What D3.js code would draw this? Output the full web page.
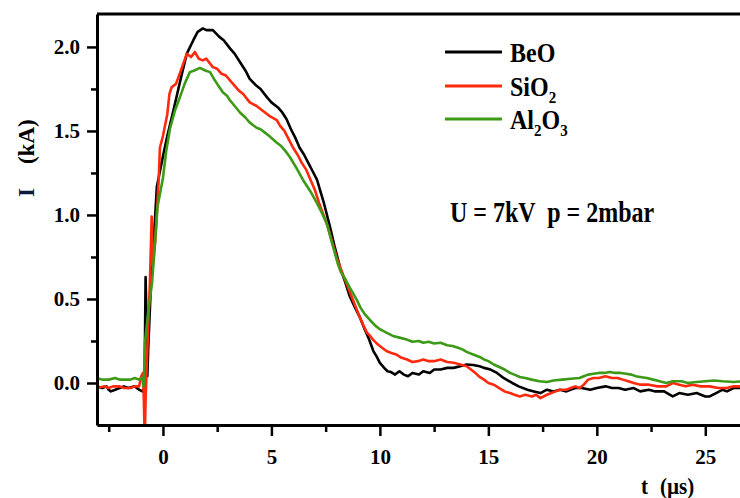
<!DOCTYPE html>
<html>

<head>
    <meta charset="utf-8">
    <title>Discharge current</title>
    <script src="https://d3js.org/d3.v7.min.js"></script>
    <style>
        html,
        body {
            margin: 0;
            padding: 0;
            background: #fff;
        }

        svg text {
            font-family: "Liberation Serif", "DejaVu Serif", serif !important;
            font-weight: bold;
        }
    </style>
</head>

<body>
    <div id="chart"></div>

    <script>
        // current traces: [t (µs), I (kA)]
        const beoData = [
            [-3.05, -0.02], [-2.8, -0.03], [-2.6, -0.02], [-2.5, -0.04], [-2.4, -0.05], [-2.2, -0.04],
            [-2.0, -0.03], [-1.8, -0.02], [-1.6, -0.03], [-1.3, -0.02], [-1.1, -0.04], [-0.95, -0.05],
            [-0.85, -0.03], [-0.8, 0.63], [-0.76, 0.38], [-0.72, 0.04], [-0.68, 0.2], [-0.55, 0.6],
            [-0.4, 0.9], [-0.28, 1.17], [0.0, 1.35], [0.2, 1.47], [0.46, 1.61], [0.8, 1.8], [1.1, 1.96],
            [1.4, 2.04], [1.6, 2.09], [1.84, 2.11], [2.0, 2.10], [2.3, 2.10], [2.6, 2.06], [2.8, 2.04],
            [3.1, 1.99], [3.3, 1.96], [3.6, 1.90], [3.8, 1.86], [4.0, 1.81], [4.3, 1.77], [4.5, 1.75],
            [4.8, 1.70], [5.0, 1.67], [5.3, 1.64], [5.5, 1.61], [5.7, 1.57], [5.9, 1.51], [6.1, 1.46],
            [6.3, 1.40], [6.5, 1.36], [6.7, 1.31], [6.9, 1.26], [7.1, 1.21], [7.4, 1.08], [7.7, 0.93],
            [7.9, 0.82], [8.16, 0.69], [8.4, 0.60], [8.6, 0.52], [8.85, 0.45], [9.08, 0.39], [9.3, 0.32],
            [9.5, 0.26], [9.7, 0.19], [9.86, 0.155], [10.0, 0.12], [10.2, 0.09], [10.35, 0.07],
            [10.5, 0.066], [10.7, 0.05], [10.9, 0.07], [11.1, 0.05], [11.3, 0.04], [11.5, 0.06],
            [11.8, 0.05], [12.0, 0.07], [12.3, 0.06], [12.5, 0.08], [12.8, 0.08], [13.1, 0.09],
            [13.4, 0.09], [13.7, 0.1], [14.0, 0.11], [14.3, 0.107], [14.6, 0.10], [14.8, 0.09],
            [15.1, 0.08], [15.4, 0.06], [15.7, 0.03], [16.1, 0.0], [16.4, -0.02], [16.8, -0.04],
            [17.1, -0.05], [17.4, -0.06], [17.7, -0.04], [18.0, -0.05], [18.3, -0.04], [18.6, -0.05],
            [19.0, -0.03], [19.3, -0.03], [19.7, -0.04], [20.0, -0.03], [20.4, -0.02], [20.7, -0.03],
            [21.0, -0.03], [21.3, -0.04], [21.7, -0.03], [22.0, -0.05], [22.4, -0.04], [22.7, -0.05],
            [23.1, -0.05], [23.5, -0.08], [23.8, -0.06], [24.2, -0.07], [24.6, -0.06], [25.0, -0.08],
            [25.2, -0.08], [25.5, -0.06], [25.8, -0.04], [26.0, -0.05], [26.3, -0.03], [26.7, -0.03]
        ];

        const sio2Data = [
            [-3.05, -0.03], [-2.7, -0.02], [-2.5, -0.03], [-2.3, -0.02], [-2.0, -0.02], [-1.8, -0.03],
            [-1.5, -0.03], [-1.3, -0.02], [-1.1, -0.02], [-1.0, 0.04], [-0.92, 0.06], [-0.88, -0.1],
            [-0.84, -0.35], [-0.8, -0.1], [-0.72, 0.2], [-0.6, 0.6], [-0.52, 0.99], [-0.46, 0.7],
            [-0.35, 0.85], [-0.2, 1.2], [-0.14, 1.40], [0.0, 1.47], [0.2, 1.6], [0.3, 1.72], [0.4, 1.76],
            [0.6, 1.78], [0.8, 1.85], [1.1, 1.96], [1.3, 1.94], [1.47, 1.97], [1.65, 1.93], [1.84, 1.92],
            [2.0, 1.93], [2.3, 1.88], [2.5, 1.87], [2.7, 1.84], [2.9, 1.83], [3.1, 1.80], [3.3, 1.77],
            [3.5, 1.74], [3.7, 1.72], [4.0, 1.67], [4.3, 1.65], [4.6, 1.62], [4.9, 1.59], [5.25, 1.565],
            [5.4, 1.53], [5.6, 1.5], [5.8, 1.45], [6.0, 1.40], [6.2, 1.36], [6.4, 1.31], [6.6, 1.27],
            [6.8, 1.21], [7.0, 1.15], [7.2, 1.07], [7.4, 1.00], [7.6, 0.93], [7.8, 0.84], [8.0, 0.75],
            [8.25, 0.66], [8.5, 0.58], [8.8, 0.48], [9.08, 0.39], [9.25, 0.34], [9.4, 0.3], [9.55, 0.28],
            [9.7, 0.255], [9.9, 0.23], [10.1, 0.21], [10.3, 0.19], [10.5, 0.18], [10.75, 0.17],
            [11.0, 0.15], [11.25, 0.14], [11.5, 0.125], [11.75, 0.13], [12.0, 0.14], [12.25, 0.13],
            [12.5, 0.13], [12.8, 0.14], [13.1, 0.125], [13.4, 0.12], [13.8, 0.107], [14.0, 0.10],
            [14.2, 0.08], [14.4, 0.06], [14.6, 0.036], [14.8, 0.02], [15.0, 0.0], [15.25, -0.01],
            [15.5, -0.03], [15.75, -0.05], [16.0, -0.06], [16.2, -0.07], [16.45, -0.08], [16.7, -0.07],
            [17.0, -0.08], [17.2, -0.07], [17.4, -0.09], [17.7, -0.07], [17.9, -0.06], [18.1, -0.05],
            [18.3, -0.04], [18.6, -0.04], [18.8, -0.03], [19.0, -0.02], [19.2, -0.03], [19.4, -0.01],
            [19.6, 0.02], [19.85, 0.03], [20.1, 0.03], [20.4, 0.04], [20.7, 0.03], [20.95, 0.03],
            [21.2, 0.02], [21.45, 0.01], [21.7, 0.0], [22.0, -0.01], [22.4, -0.01], [22.8, -0.02],
            [23.2, -0.02], [23.5, 0.0], [23.8, -0.01], [24.1, -0.02], [24.4, -0.01], [24.8, -0.02],
            [25.2, -0.02], [25.6, -0.03], [26.0, -0.03], [26.3, -0.02], [26.7, -0.02]
        ];

        const al2o3Data = [
            [-3.05, 0.03], [-2.8, 0.02], [-2.5, 0.02], [-2.2, 0.03], [-2.0, 0.02], [-1.7, 0.02],
            [-1.5, 0.02], [-1.3, 0.03], [-1.1, 0.02], [-0.95, 0.03], [-0.9, -0.02], [-0.85, 0.1],
            [-0.83, 0.24], [-0.7, 0.4], [-0.5, 0.6], [-0.25, 1.05], [0.0, 1.22], [0.15, 1.38],
            [0.32, 1.51], [0.55, 1.62], [0.78, 1.70], [1.0, 1.78], [1.24, 1.85], [1.45, 1.86],
            [1.7, 1.875], [1.95, 1.86], [2.17, 1.85], [2.4, 1.80], [2.55, 1.77], [2.76, 1.73],
            [2.95, 1.71], [3.1, 1.68], [3.3, 1.65], [3.55, 1.61], [3.8, 1.58], [4.0, 1.55], [4.3, 1.52],
            [4.5, 1.51], [4.7, 1.49], [4.9, 1.47], [5.07, 1.45], [5.25, 1.43], [5.45, 1.41],
            [5.65, 1.38], [5.85, 1.345], [6.15, 1.28], [6.45, 1.21], [6.8, 1.14], [7.1, 1.07],
            [7.3, 1.02], [7.55, 0.95], [7.8, 0.83], [8.06, 0.71], [8.2, 0.66], [8.4, 0.62], [8.6, 0.57],
            [8.76, 0.535], [8.95, 0.49], [9.1, 0.45], [9.3, 0.41], [9.54, 0.375], [9.8, 0.34],
            [10.0, 0.32], [10.15, 0.31], [10.3, 0.30], [10.6, 0.28], [10.9, 0.27], [11.2, 0.26],
            [11.5, 0.245], [11.8, 0.25], [12.0, 0.24], [12.25, 0.245], [12.5, 0.235], [12.8, 0.24],
            [13.1, 0.225], [13.35, 0.22], [13.6, 0.21], [13.8, 0.20], [14.0, 0.185], [14.3, 0.17],
            [14.6, 0.155], [14.8, 0.14], [15.0, 0.13], [15.25, 0.11], [15.5, 0.095], [15.75, 0.08],
            [16.0, 0.06], [16.2, 0.05], [16.45, 0.036], [16.7, 0.03], [17.0, 0.02], [17.35, 0.01],
            [17.7, 0.006], [18.0, 0.015], [18.4, 0.02], [18.8, 0.025], [19.2, 0.03], [19.4, 0.04],
            [19.6, 0.05], [19.85, 0.055], [20.1, 0.06], [20.35, 0.06], [20.6, 0.065], [20.85, 0.06],
            [21.1, 0.06], [21.35, 0.055], [21.6, 0.05], [21.8, 0.04], [22.0, 0.036], [22.3, 0.03],
            [22.6, 0.02], [22.9, 0.01], [23.2, 0.0], [23.5, 0.01], [23.9, 0.01], [24.2, 0.0],
            [24.6, 0.006], [25.0, 0.01], [25.4, 0.015], [25.8, 0.01], [26.3, 0.006], [26.7, 0.01]
        ];

        const seriesNames = ["BeO", "SiO2", "Al2O3"];
        const xTicks = [0, 5, 10, 15, 20, 25];
        const yTicks = [0.0, 0.5, 1.0, 1.5, 2.0];

        const series = [
            { name: seriesNames[0], data: beoData, color: "#000000" },
            { name: seriesNames[1], data: sio2Data, color: "#ff2a0e" },
            { name: seriesNames[2], data: al2o3Data, color: "#3d9a17" }
        ];

        var width = 740, height = 498;
        var plot = { left: 97, right: 740, top: 14, bottom: 425 };
        var serif = "'Liberation Serif', 'DejaVu Serif', serif";

        var svg = d3.select("#chart")
            .append("svg")
            .attr("width", width)
            .attr("height", height)
            .attr("font-family", serif)
            .attr("font-weight", "bold");

        var x = d3.scaleLinear()
            .domain([-3.04, 26.6])
            .range([plot.left, plot.right]);

        var y = d3.scaleLinear()
            .domain([-0.25, 2.196])
            .range([plot.bottom, plot.top]);

        // clip the traces to the frame
        svg.append("clipPath")
            .attr("id", "clip")
            .append("rect")
            .attr("x", plot.left)
            .attr("y", plot.top)
            .attr("width", plot.right - plot.left)
            .attr("height", plot.bottom - plot.top);

        var line = d3.line()
            .x(d => x(d[0]))
            .y(d => y(d[1]));

        svg.append("g")
            .attr("clip-path", "url(#clip)")
            .selectAll("path")
            .data(series)
            .enter()
            .append("path")
            .attr("d", d => line(d.data))
            .attr("fill", "none")
            .attr("stroke", d => d.color)
            .attr("stroke-width", 2.6)
            .attr("stroke-linejoin", "round");

        // minor ticks
        svg.append("g")
            .attr("transform", `translate(0, ${plot.bottom})`)
            .call(d3.axisBottom(x).tickValues(d3.range(-2.5, 26.6, 5)).tickSize(7).tickFormat(""))
            .call(g => g.select(".domain").remove())
            .selectAll("line").attr("stroke-width", 2.5);

        svg.append("g")
            .attr("transform", `translate(${plot.left}, 0)`)
            .call(d3.axisLeft(y).tickValues(d3.range(0.25, 2.2, 0.5)).tickSize(6).tickFormat(""))
            .call(g => g.select(".domain").remove())
            .selectAll("line").attr("stroke-width", 2.5);

        // X axis
        var xAxis = svg.append("g")
            .attr("transform", `translate(0, ${plot.bottom})`)
            .call(d3.axisBottom(x).tickValues(xTicks).tickSize(11).tickPadding(13).tickSizeOuter(0)
                .tickFormat(d3.format("d")));
        xAxis.attr("font-family", serif).attr("font-size", 21);
        xAxis.select(".domain").attr("stroke-width", 3);
        xAxis.selectAll("line").attr("stroke-width", 2.5);
        xAxis.selectAll("text").attr("fill", "#000");

        // Y axis
        var yAxis = svg.append("g")
            .attr("transform", `translate(${plot.left}, 0)`)
            .call(d3.axisLeft(y).tickValues(yTicks).tickSize(10).tickPadding(7).tickSizeOuter(0)
                .tickFormat(d3.format(".1f")));
        yAxis.attr("font-family", serif).attr("font-size", 21);
        yAxis.select(".domain").attr("stroke-width", 3);
        yAxis.selectAll("line").attr("stroke-width", 2.5);
        yAxis.selectAll("text").attr("fill", "#000");

        // top frame line
        svg.append("line")
            .attr("x1", plot.left)
            .attr("x2", plot.right)
            .attr("y1", plot.top)
            .attr("y2", plot.top)
            .attr("stroke", "#000")
            .attr("stroke-width", 3);

        // axis titles
        var yTitle = svg.append("text")
            .attr("transform", "translate(34, 197) rotate(-90)")
            .attr("font-size", 23);
        yTitle.append("tspan").attr("fill", "#0b1a3a").text("I");
        yTitle.append("tspan").attr("dx", 24).attr("fill", "#000").text("(kA)");

        var xTitle = svg.append("text")
            .attr("transform", "translate(641, 494) scale(1, 1.1)")
            .attr("font-size", 21);
        xTitle.append("tspan").text("t");
        xTitle.append("tspan").attr("dx", 12).text("(\u00b5s)");

        // legend
        var legend = svg.append("g");
        var legendY = [52, 86, 119];
        var labelParts = [
            [["BeO", false]],
            [["SiO", false], ["2", true]],
            [["Al", false], ["2", true], ["O", false], ["3", true]]
        ];

        series.forEach((s, i) => {
            legend.append("line")
                .attr("x1", 445)
                .attr("x2", 502)
                .attr("y1", legendY[i])
                .attr("y2", legendY[i])
                .attr("stroke", s.color)
                .attr("stroke-width", 3.2);

            var label = legend.append("text")
                .attr("transform", `translate(510, ${legendY[i] + 10}) scale(1, 1.12)`)
                .attr("font-size", 24);

            var shifted = false;
            labelParts[i].forEach(p => {
                var t = label.append("tspan").text(p[0]);
                if (p[1] && !shifted) {
                    t.attr("dy", 6).attr("font-size", 15);
                    shifted = true;
                } else if (!p[1] && shifted) {
                    t.attr("dy", -6);
                    shifted = false;
                } else if (p[1]) {
                    t.attr("font-size", 15);
                }
            });
        });

        // operating conditions
        svg.append("text")
            .attr("transform", "translate(450, 222) scale(1, 1.2)")
            .attr("font-size", 24)
            .style("white-space", "pre")
            .text("U = 7kV  p = 2mbar");
    </script>
</body>

</html>
